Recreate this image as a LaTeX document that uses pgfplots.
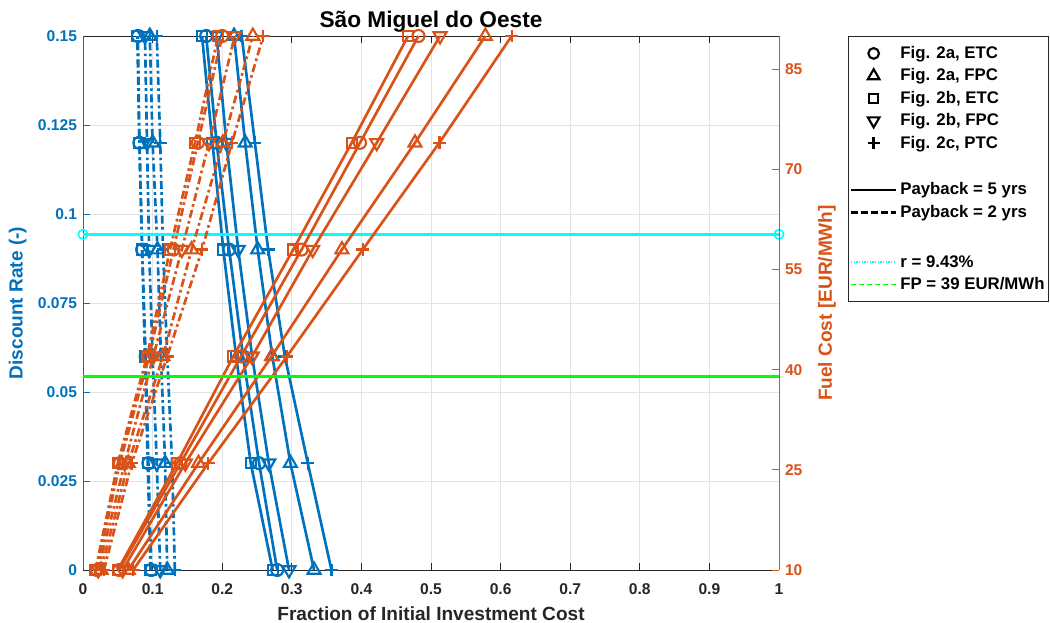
\documentclass[border=0pt]{standalone}
\usepackage{pgfplots}
\usepackage{pgfplotstable}
\pgfplotsset{compat=1.18}
\usepackage{fontspec}
\setmainfont{Liberation Sans}
\definecolor{mblue}{rgb}{0,0.447,0.741}
\definecolor{morange}{rgb}{0.851,0.325,0.098}
\definecolor{mcyan}{rgb}{0,1,1}
\definecolor{mgreen}{rgb}{0,1,0}
\definecolor{gridc}{RGB}{223,228,234}
\definecolor{axgray}{RGB}{38,38,38}

% Discount-rate curves (left axis), payback 5 yrs
\pgfplotstableread{
r     aetc   afpc   betc   bfpc   cptc
0     0.279  0.332  0.2725 0.296  0.357
0.03  0.253  0.298  0.241  0.267  0.323
0.06  0.230  0.272  0.220  0.243  0.290
0.09  0.210  0.251  0.2016 0.223  0.266
0.12  0.192  0.233  0.186  0.206  0.247
0.15  0.177  0.217  0.171  0.192  0.228
}\blueFive
% Discount-rate curves (left axis), payback 2 yrs
\pgfplotstableread{
r     aetc   afpc   betc   bfpc   cptc
0     0.098  0.121  0.097  0.111  0.132
0.03  0.094  0.118  0.093  0.106  0.128
0.06  0.090  0.112  0.089  0.100  0.121
0.09  0.085  0.107  0.085  0.095  0.115
0.12  0.081  0.100  0.081  0.092  0.111
0.15  0.079  0.096  0.078  0.089  0.106
}\blueTwo
% Fuel-cost curves (right axis), payback 5 yrs
\pgfplotstableread{
fc    aetc   afpc   betc   bfpc   cptc
10    0.052  0.065  0.050  0.057  0.072
26    0.140  0.166  0.135  0.147  0.180
42    0.227  0.271  0.216  0.243  0.293
58    0.314  0.372  0.302  0.330  0.402
74    0.398  0.477  0.386  0.422  0.512
90    0.482  0.578  0.467  0.513  0.616
}\orangeFive
% Fuel-cost curves (right axis), payback 2 yrs
\pgfplotstableread{
fc    aetc   afpc   betc   bfpc   cptc
10    0.020  0.026  0.018  0.022  0.030
26    0.053  0.065  0.050  0.060  0.070
42    0.095  0.115  0.092  0.101  0.121
58    0.130  0.156  0.125  0.142  0.171
74    0.165  0.201  0.161  0.181  0.214
90    0.200  0.244  0.194  0.218  0.259
}\orangeTwo

\pgfplotsset{
  dd/.style={dash pattern=on 6pt off 2.5pt on 2pt off 2.5pt},
  mo/.style={mark=o, mark size=4.5pt, mark options={solid, line width=1.6pt}},
  mt/.style={mark=triangle, mark size=5.6pt, mark options={solid, line width=1.6pt}},
  ms/.style={mark=square, mark size=3.8pt, mark options={solid, line width=1.6pt}},
  mv/.style={mark=triangle, mark size=5.6pt, mark options={solid, rotate=180, line width=1.6pt}},
  mp/.style={mark=+, mark size=4.8pt, mark options={solid, line width=1.8pt}},
  ln/.style={line width=2pt, forget plot},
  common/.style={
    scale only axis, width=522pt, height=400.5pt,
    xmin=0, xmax=1, clip=false,
    tick align=inside, major tick length=5pt,
    ticklabel style={font=\fontsize{11.7pt}{14pt}\selectfont\bfseries},
  },
}

\begin{document}
\begin{tikzpicture}
\path[use as bounding box] (-62.25pt,-39.75pt) rectangle (725.25pt,427.5pt);

\begin{axis}[common,
  ymin=0, ymax=0.15,
  axis y line*=left,
  xtick={0,0.1,0.2,0.3,0.4,0.5,0.6,0.7,0.8,0.9,1},
  xticklabels={0,0.1,0.2,0.3,0.4,0.5,0.6,0.7,0.8,0.9,1},
  ytick={0,0.025,0.05,0.075,0.1,0.125,0.15},
  yticklabels={0,0.025,0.05,0.075,0.1,0.125,0.15},
  grid=major, grid style={gridc, line width=0.6pt},
  x axis line style={axgray, line width=0.6pt},
  y axis line style={mblue, line width=0.6pt},
  xtick style={axgray, line width=0.6pt},
  ytick style={mblue, line width=0.6pt},
  xticklabel style={axgray, yshift=-6.5pt},
  yticklabel style={mblue, xshift=-1pt},
  every axis x label/.style={at={(rel axis cs:0.5,0)}, yshift=-33pt, anchor=center,
     font=\fontsize{14.3pt}{16pt}\selectfont\bfseries, text=axgray},
  every axis y label/.style={at={(rel axis cs:0,0.5)}, xshift=-49pt, rotate=90, anchor=center,
     font=\fontsize{14.3pt}{16pt}\selectfont\bfseries, text=mblue},
  every axis title/.style={at={(rel axis cs:0.5,1)}, yshift=10.5pt, anchor=center,
     font=\fontsize{17pt}{19pt}\selectfont\bfseries, text=black},
  xlabel={Fraction of Initial Investment Cost},
  ylabel={Discount Rate (-)},
  title={São Miguel do Oeste},
]
% payback 5 yrs
\addplot[mblue, ln, mo] table[x=aetc, y=r] {\blueFive};
\addplot[mblue, ln, mt] table[x=afpc, y=r] {\blueFive};
\addplot[mblue, ln, ms] table[x=betc, y=r] {\blueFive};
\addplot[mblue, ln, mv] table[x=bfpc, y=r] {\blueFive};
\addplot[mblue, ln, mp] table[x=cptc, y=r] {\blueFive};
% payback 2 yrs
\addplot[mblue, ln, dd, mo] table[x=aetc, y=r] {\blueTwo};
\addplot[mblue, ln, dd, mt] table[x=afpc, y=r] {\blueTwo};
\addplot[mblue, ln, dd, ms] table[x=betc, y=r] {\blueTwo};
\addplot[mblue, ln, dd, mv] table[x=bfpc, y=r] {\blueTwo};
\addplot[mblue, ln, dd, mp] table[x=cptc, y=r] {\blueTwo};
% r = 9.43 %
\addplot[mcyan, line width=2pt, mark=o, mark size=3.5pt, mark options={line width=1.2pt}, forget plot]
  coordinates {(0,0.0943) (1,0.0943)};
\end{axis}

\begin{axis}[common,
  ymin=10, ymax=90,
  axis x line=none,
  axis y line*=right,
  ytick={10,25,40,55,70,85},
  yticklabels={10,25,40,55,70,85},
  y axis line style={morange, line width=0.6pt},
  ytick style={morange, line width=0.6pt},
  yticklabel style={morange, xshift=1pt},
  every axis y label/.style={at={(rel axis cs:1,0.5)}, xshift=36pt, rotate=90, anchor=center,
     font=\fontsize{14.3pt}{16pt}\selectfont\bfseries, text=morange},
  ylabel={Fuel Cost [EUR/MWh]},
  legend style={at={(rel axis cs:1,1)}, anchor=north west, xshift=51.75pt,
     draw=axgray, line width=0.5pt, fill=white,
     font=\fontsize{12.6pt}{15pt}\selectfont\bfseries,
     row sep=2.2pt, inner xsep=1pt, inner ysep=5.5pt},
  legend cell align=left,
  legend image code/.code={\draw[mark repeat=2,mark phase=2,#1] plot coordinates {(0pt,0pt) (17pt,0pt) (34pt,0pt)};},
]
% payback 5 yrs
\addplot[morange, ln, mo] table[x=aetc, y=fc] {\orangeFive};
\addplot[morange, ln, mt] table[x=afpc, y=fc] {\orangeFive};
\addplot[morange, ln, ms] table[x=betc, y=fc] {\orangeFive};
\addplot[morange, ln, mv] table[x=bfpc, y=fc] {\orangeFive};
\addplot[morange, ln, mp] table[x=cptc, y=fc] {\orangeFive};
% payback 2 yrs
\addplot[morange, ln, dd, mo] table[x=aetc, y=fc] {\orangeTwo};
\addplot[morange, ln, dd, mt] table[x=afpc, y=fc] {\orangeTwo};
\addplot[morange, ln, dd, ms] table[x=betc, y=fc] {\orangeTwo};
\addplot[morange, ln, dd, mv] table[x=bfpc, y=fc] {\orangeTwo};
\addplot[morange, ln, dd, mp] table[x=cptc, y=fc] {\orangeTwo};
% FP = 39
\addplot[mgreen, line width=2pt, forget plot] coordinates {(0,39) (1,39)};

% legend
\addlegendimage{only marks, black, mark=o, mark size=4pt, mark options={line width=1.6pt}}
\addlegendentry{Fig. 2a, ETC}
\addlegendimage{only marks, black, mark=triangle, mark size=5pt, mark options={line width=1.6pt}}
\addlegendentry{Fig. 2a, FPC}
\addlegendimage{only marks, black, mark=square, mark size=3.4pt, mark options={line width=1.6pt}}
\addlegendentry{Fig. 2b, ETC}
\addlegendimage{only marks, black, mark=triangle, mark size=5pt, mark options={rotate=180, line width=1.6pt}}
\addlegendentry{Fig. 2b, FPC}
\addlegendimage{only marks, black, mark=+, mark size=4.5pt, mark options={line width=1.8pt}}
\addlegendentry{Fig. 2c, PTC}
\addlegendimage{empty legend}
\addlegendentry{\rule{0pt}{10.5pt}}
\addlegendimage{black, line width=2pt}
\addlegendentry{Payback = 5 yrs}
\addlegendimage{black, line width=2pt, dash pattern=on 5pt off 2.5pt}
\addlegendentry{Payback = 2 yrs}
\addlegendimage{empty legend}
\addlegendentry{\rule{0pt}{13pt}}
\addlegendimage{mcyan, line width=1.2pt, dash pattern=on 1pt off 1pt}
\addlegendentry{r = 9.43\%}
\addlegendimage{mgreen, line width=1.2pt, dash pattern=on 4pt off 2pt}
\addlegendentry{FP = 39 EUR/MWh\rule[-7pt]{0pt}{0pt}}
\end{axis}
\end{tikzpicture}
\end{document}
